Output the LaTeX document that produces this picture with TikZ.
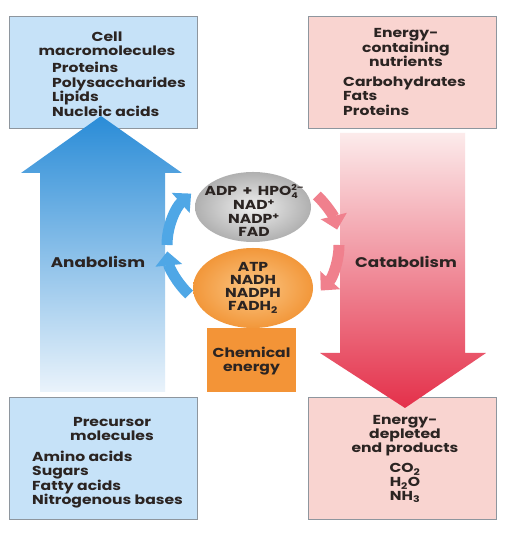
\documentclass[tikz,border=0pt]{standalone}
\usepackage{fontspec}
\setmainfont{Poppins}[FakeStretch=1.2]
\usetikzlibrary{arrows.meta,shapes.geometric}
\definecolor{ink}{HTML}{2B2422}
\definecolor{bluebox}{HTML}{C6E2F8}
\definecolor{pinkbox}{HTML}{F9D4D0}
\definecolor{boxline}{HTML}{8E969E}
\definecolor{blueA}{HTML}{2A8CD7}
\definecolor{blueB}{HTML}{EAF3FB}
\definecolor{redA}{HTML}{FCEBEB}
\definecolor{redB}{HTML}{E4304A}
\definecolor{cycblue}{HTML}{4FA7E6}
\definecolor{cycred}{HTML}{F0808D}
\definecolor{orIn}{HTML}{FBC684}
\definecolor{orOut}{HTML}{F2973A}
\definecolor{orbox}{HTML}{F39437}
\begin{document}
\begin{tikzpicture}[x=1pt,y=1pt,
  box/.style={draw=boxline, line width=0.8pt, minimum width=188pt, inner sep=0},
  lbl/.style={inner sep=0, text=ink, font=\bfseries\fontsize{13}{13.6}\selectfont},
  mid/.style={inner sep=0, text=ink, font=\bfseries\fontsize{13}{12.9}\selectfont},
  big/.style={inner sep=0, text=ink, font=\bfseries\fontsize{14}{16}\selectfont},
  cyc/.style={line width=11pt, -{Triangle[width=26pt,length=14pt]}},
]
\useasboundingbox (0,0) rectangle (517,534);
\fill[white] (0,0) rectangle (517,534);

% boxes
\node[box, fill=bluebox, minimum height=112pt] (mac) at (103,462) {};
\node[box, fill=pinkbox, minimum height=112pt] (nut) at (402,462) {};
\node[box, fill=bluebox, minimum height=122pt] (pre) at (103,76) {};
\node[box, fill=pinkbox, minimum height=122pt] (endp) at (402.5,76) {};

% big arrows
\shade[top color=blueA, bottom color=blueB] (40,142) -- (40,361) -- (21,361) -- (101,418) -- (182,361) -- (165,361) -- (165,142) -- cycle;
\shade[top color=redA, bottom color=redB] (340,401) -- (340,181) -- (320,181) -- (405,126) -- (486,181) -- (465,181) -- (465,401) -- cycle;

% cycle arrows
\coordinate (cc) at (253,289);
\draw[cyc, cycblue] ([shift={(180:86pt and 74pt)}]cc) arc[start angle=180, end angle=136, x radius=86pt, y radius=74pt];
\draw[cyc, cycblue] ([shift={(222:86pt and 74pt)}]cc) arc[start angle=222, end angle=185, x radius=86pt, y radius=74pt];
\draw[cyc, cycred] ([shift={(42:86pt and 74pt)}]cc) arc[start angle=42, end angle=12, x radius=86pt, y radius=74pt];
\draw[cyc, cycred] ([shift={(0:86pt and 74pt)}]cc) arc[start angle=0, end angle=-38, x radius=86pt, y radius=74pt];

% ellipses and energy box
\node[ellipse, minimum width=116pt, minimum height=70pt, inner color=gray!12, outer color=gray!62] (adp) at (253,327) {};
\node[ellipse, minimum width=120pt, minimum height=80pt, inner color=orIn, outer color=orOut] (atp) at (253,246) {};
\node[fill=orbox, minimum width=89pt, minimum height=64pt, inner sep=0] (chem) at (251.5,174) {};

% texts
\node[lbl, anchor=base] (macT) at (107,492) {\begin{tabular}[t]{@{}c@{}}Cell\\macromolecules\end{tabular}};
\node[lbl, anchor=base west] (macI) at (52,461) {\begin{tabular}[t]{@{}l@{}}Proteins\\Polysaccharides\\Lipids\\Nucleic acids\end{tabular}};

\node[lbl, anchor=base] (nutT) at (406,496) {\begin{tabular}[t]{@{}c@{}}Energy-\\containing\\nutrients\end{tabular}};
\node[lbl, anchor=base west] (nutI) at (343,447) {\begin{tabular}[t]{@{}l@{}}Carbohydrates\\Fats\\Proteins\end{tabular}};

\node[lbl, anchor=base] (preT) at (112,107) {\begin{tabular}[t]{@{}c@{}}Precursor\\molecules\end{tabular}};
\node[lbl, anchor=base west] (preI) at (32,72) {\begin{tabular}[t]{@{}l@{}}Amino acids\\Sugars\\Fatty acids\\Nitrogenous bases\end{tabular}};

\node[lbl, anchor=base] (endT) at (405,109) {\begin{tabular}[t]{@{}c@{}}Energy-\\depleted\\end products\end{tabular}};
\node[lbl, anchor=base] (endI) at (405,61) {\begin{tabular}[t]{@{}c@{}}CO\textsubscript{2}\\H\textsubscript{2}O\\NH\textsubscript{3}\end{tabular}};

\node[mid, anchor=base] (adpT) at (254,338) {\begin{tabular}[t]{@{}c@{}}ADP\,\ +\ \,HPO\rlap{\raisebox{-2.6pt}{\fontsize{8}{8}\selectfont 4}}\raisebox{5pt}{\fontsize{8}{8}\selectfont 2--}\\NAD\textsuperscript{+}\\NADP\textsuperscript{+}\\FAD\end{tabular}};
\node[mid, anchor=base] (atpT) at (253,262) {\begin{tabular}[t]{@{}c@{}}ATP\\NADH\\NADPH\\FADH\textsubscript{2}\end{tabular}};
\node[lbl, anchor=base] (chemT) at (251.5,176) {\begin{tabular}[t]{@{}c@{}}Chemical\\energy\end{tabular}};

\node[big, anchor=base] (ana) at (98,266) {Anabolism};
\node[big, anchor=base] (cata) at (406,266) {Catabolism};
\end{tikzpicture}
\end{document}
